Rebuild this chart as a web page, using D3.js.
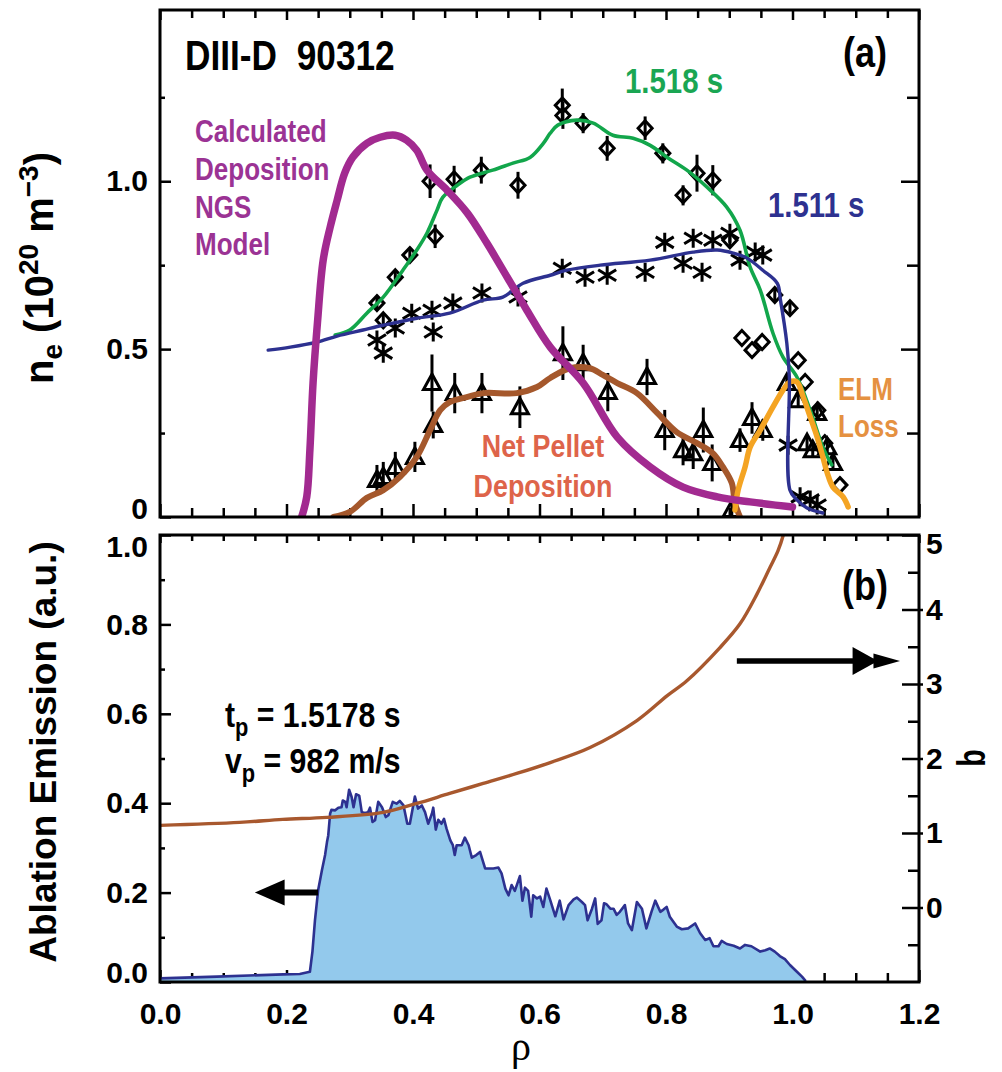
<!DOCTYPE html>
<html>
<head>
<meta charset="UTF-8">
<style>
  body { margin: 0; background: #fff; }
  svg { display: block; }
  text { font-weight: bold; }
</style>
</head>
<body>
<svg width="1002" height="1072"></svg>
<script src="https://d3js.org/d3.v7.min.js"></script>
<script>
// ---- data (rho, value) ----
// panel (a): n_e profiles, 1e20 m^-3
const ngsModel = [[0.224,0],[0.232,0.06],[0.237,0.2],[0.242,0.4],[0.249,0.58],[0.258,0.765],[0.269,0.863],
  [0.280,0.943],[0.292,1.024],[0.305,1.072],[0.327,1.113],[0.348,1.131],[0.372,1.137],[0.390,1.122],
  [0.406,1.092],[0.422,1.033],[0.454,0.973],[0.486,0.905],[0.517,0.815],[0.549,0.714],[0.580,0.616],
  [0.617,0.506],[0.669,0.399],[0.723,0.238],[0.775,0.149],[0.827,0.089],[0.881,0.060],[0.933,0.045],[1.0,0.030]];

const fit1518 = [[0.277,0.542],[0.300,0.557],[0.327,0.607],[0.353,0.655],[0.384,0.735],[0.406,0.795],
  [0.422,0.845],[0.438,0.914],[0.447,0.952],[0.470,0.988],[0.490,1.012],[0.526,1.033],[0.558,1.054],
  [0.585,1.071],[0.606,1.113],[0.617,1.143],[0.629,1.167],[0.659,1.182],[0.685,1.173],[0.716,1.137],
  [0.748,1.128],[0.775,1.107],[0.802,1.071],[0.833,1.033],[0.865,0.982],[0.896,0.923],[0.917,0.854],
  [0.933,0.744],[0.949,0.676],[0.969,0.548],[0.985,0.476],[1.007,0.417],[1.028,0.318],[1.048,0.208],[1.062,0.155]];

const fit1511 = [[0.171,0.497],[0.206,0.506],[0.248,0.521],[0.280,0.539],[0.321,0.557],[0.353,0.571],
  [0.406,0.592],[0.458,0.607],[0.511,0.646],[0.542,0.655],[0.574,0.696],[0.617,0.720],[0.643,0.735],
  [0.696,0.750],[0.775,0.765],[0.843,0.789],[0.881,0.795],[0.906,0.786],[0.928,0.771],[0.953,0.735],
  [0.976,0.696],[0.981,0.646],[0.991,0.518],[0.995,0.417],[0.996,0.080],[1.007,0.051],[1.023,0.027],[1.048,0.012]];

const netDeposition = [[0.274,0],[0.300,0.015],[0.327,0.057],[0.353,0.080],[0.379,0.119],[0.406,0.179],
  [0.427,0.259],[0.443,0.318],[0.458,0.342],[0.485,0.357],[0.511,0.369],[0.564,0.369],[0.596,0.387],
  [0.617,0.414],[0.648,0.443],[0.680,0.443],[0.700,0.423],[0.723,0.399],[0.754,0.369],[0.786,0.310],
  [0.817,0.253],[0.849,0.220],[0.874,0.190],[0.890,0.149],[0.904,0.101],[0.909,0.042],[0.917,0]];

const elmLoss = [[0.909,0.021],[0.914,0.080],[0.925,0.149],[0.933,0.208],[0.949,0.259],[0.969,0.327],
  [0.985,0.378],[0.996,0.402],[1.007,0.402],[1.017,0.357],[1.028,0.298],[1.039,0.238],[1.048,0.179],
  [1.055,0.131],[1.064,0.089],[1.080,0.060],[1.088,0.030]];

// Thomson points [rho, ne, error]
const diamonds = [[0.343,0.637,0.02],[0.353,0.586,0.02],[0.372,0.714,0.02],[0.395,0.780,0.02],[0.435,0.836,0.035],
  [0.427,1.0,0.05],[0.465,1.006,0.04],[0.508,1.033,0.04],[0.566,0.988,0.04],[0.636,1.226,0.05],
  [0.637,1.196,0.04],[0.669,1.173,0.03],[0.707,1.098,0.037],[0.767,1.158,0.035],[0.795,1.083,0.03],
  [0.827,0.958,0.03],[0.849,1.024,0.055],[0.874,1.003,0.045],[0.901,0.824,0.02],[0.972,0.661,0.02],
  [0.996,0.622,0.02],[0.920,0.533,0],[0.936,0.497,0],[0.952,0.521,0],[1.009,0.467,0],[1.020,0.402,0],
  [1.040,0.318,0],[1.051,0.220,0],[1.075,0.095,0]];

const asterisks = [[0.343,0.527],[0.353,0.488],[0.372,0.563],[0.398,0.607],[0.430,0.616],[0.432,0.551],
  [0.463,0.637],[0.509,0.667],[0.566,0.655],[0.636,0.741],[0.672,0.714],[0.707,0.720],[0.767,0.729],
  [0.798,0.818],[0.827,0.756],[0.857,0.729],[0.843,0.830],[0.874,0.824],[0.901,0.845],[0.917,0.765],
  [0.941,0.789],[0.953,0.780],[0.993,0.214],[1.012,0.060],[1.028,0.051],[1.039,0.036]];

const triangles = [[0.343,0.110,0.045],[0.353,0.119,0.045],[0.372,0.149,0.045],[0.403,0.179,0.045],
  [0.430,0.399,0.085],[0.432,0.274,0.04],[0.466,0.369,0.06],[0.509,0.369,0.06],[0.569,0.327,0.062],
  [0.637,0.488,0.08],[0.669,0.458,0.055],[0.708,0.372,0.057],[0.770,0.417,0.054],[0.798,0.259,0.06],
  [0.827,0.199,0.045],[0.843,0.190,0.047],[0.859,0.259,0.067],[0.873,0.161,0.055],[0.904,0.021,0.02],
  [0.917,0.229,0.035],[0.936,0.295,0.047],[0.953,0.259,0.032],[0.991,0.399,0.02],[1.009,0.348,0.02],
  [1.023,0.220,0.02],[1.032,0.199,0.02],[1.039,0.310,0.02],[1.055,0.208,0.02],[1.064,0.161,0.02]];

// panel (b): ablation emission (a.u.) and q profile
const ablation = [[0,0.008],[0.09,0.012],[0.195,0.017],[0.221,0.018],[0.237,0.023],[0.241,0.068],
  [0.245,0.138],[0.250,0.205],[0.256,0.250],[0.261,0.284],[0.264,0.313],[0.266,0.328],[0.269,0.377],
  [0.271,0.385],[0.277,0.384],[0.282,0.390],[0.287,0.391],[0.289,0.406],[0.293,0.403],[0.295,0.391],
  [0.299,0.430],[0.303,0.414],[0.306,0.391],[0.310,0.420],[0.315,0.417],[0.319,0.380],[0.324,0.378],
  [0.329,0.380],[0.332,0.390],[0.336,0.358],[0.340,0.362],[0.345,0.403],[0.351,0.391],[0.357,0.369],
  [0.361,0.373],[0.368,0.403],[0.374,0.399],[0.379,0.405],[0.385,0.395],[0.391,0.354],[0.395,0.354],
  [0.403,0.415],[0.408,0.388],[0.414,0.395],[0.419,0.380],[0.424,0.354],[0.430,0.377],[0.432,0.390],
  [0.436,0.341],[0.440,0.363],[0.445,0.354],[0.449,0.365],[0.453,0.343],[0.459,0.317],[0.463,0.306],
  [0.466,0.284],[0.469,0.306],[0.477,0.306],[0.482,0.323],[0.488,0.306],[0.493,0.278],[0.500,0.284],
  [0.506,0.291],[0.514,0.254],[0.527,0.254],[0.535,0.256],[0.540,0.243],[0.546,0.209],[0.551,0.194],
  [0.556,0.217],[0.561,0.204],[0.569,0.237],[0.573,0.182],[0.577,0.211],[0.582,0.204],[0.587,0.146],
  [0.590,0.194],[0.596,0.187],[0.601,0.191],[0.606,0.168],[0.611,0.209],[0.617,0.183],[0.625,0.147],
  [0.632,0.182],[0.638,0.140],[0.646,0.172],[0.654,0.185],[0.659,0.189],[0.667,0.179],[0.672,0.172],
  [0.676,0.138],[0.683,0.164],[0.688,0.187],[0.692,0.130],[0.698,0.138],[0.702,0.176],[0.706,0.174],
  [0.712,0.164],[0.717,0.164],[0.722,0.150],[0.727,0.157],[0.735,0.172],[0.740,0.131],[0.746,0.116],
  [0.754,0.179],[0.762,0.164],[0.769,0.120],[0.777,0.157],[0.783,0.182],[0.791,0.157],[0.796,0.162],
  [0.801,0.168],[0.806,0.146],[0.817,0.124],[0.825,0.118],[0.835,0.120],[0.846,0.131],[0.854,0.109],
  [0.862,0.094],[0.869,0.098],[0.875,0.080],[0.883,0.080],[0.888,0.092],[0.896,0.085],[0.907,0.081],
  [0.917,0.075],[0.925,0.083],[0.935,0.080],[0.949,0.068],[0.957,0.071],[0.964,0.075],[0.972,0.068],
  [0.980,0.058],[0.988,0.051],[0.996,0.038],[1.007,0.023],[1.015,0.012],[1.021,0.002]];

const qProfile = [[0,1.103],[0.126,1.143],[0.194,1.183],[0.264,1.210],[0.353,1.277],[0.406,1.397],
  [0.458,1.531],[0.511,1.665],[0.564,1.799],[0.617,1.946],[0.680,2.147],[0.754,2.509],[0.802,2.844],
  [0.833,3.044],[0.885,3.486],[0.917,3.808],[0.944,4.210],[0.964,4.558],[0.977,4.786],[0.985,4.986],[0.988,5.1]];

const xMajor = [0, 0.2, 0.4, 0.6, 0.8, 1.0, 1.2];
const xMinor = d3.range(1, 24).filter(i => i % 4 !== 0).map(i => i * 0.05);

// ---- layout ----
const svg = d3.select("svg");
const x = d3.scaleLinear().domain([0, 1.2]).range([160, 919]);
const yA = d3.scaleLinear().domain([0, 1.51]).range([517, 10]);
const yB = d3.scaleLinear().domain([0, 1]).range([982, 535]);
const yQ = d3.scaleLinear().domain([-1, 5]).range([982, 535]);

const SANS = "'Liberation Sans', Arial, sans-serif";
const SQUEEZE = 0.84; // the figure's lettering is a condensed Helvetica

const defs = svg.append("defs");
defs.append("clipPath").attr("id", "clipA").append("rect")
  .attr("x", 160).attr("y", 10).attr("width", 759).attr("height", 507);
defs.append("clipPath").attr("id", "clipB").append("rect")
  .attr("x", 160).attr("y", 535).attr("width", 759).attr("height", 447);

function styleAxis(g) {
  g.select(".domain").remove();
  g.selectAll("line").attr("stroke", "#000").attr("stroke-width", 2.5);
  g.attr("font-family", SANS).attr("font-size", 30).attr("fill", "#000");
  g.selectAll("text").attr("fill", "#000");
  return g;
}
function tickAxis(axis, tx, ty) {
  return svg.append("g").attr("transform", `translate(${tx},${ty})`).call(axis).call(styleAxis);
}
const blank = () => "";

// ---- panel (a) axes ----
tickAxis(d3.axisLeft(yA).tickValues([0, 0.5, 1.0]).tickSize(-11).tickPadding(12)
  .tickFormat(d => d === 0 ? "0" : d3.format(".1f")(d)), 160, 0)
  .selectAll("text").filter(d => d === 0).attr("dy", "0.05em");
tickAxis(d3.axisLeft(yA).tickValues([0.25, 0.75, 1.25]).tickSize(-5).tickFormat(blank), 160, 0);
tickAxis(d3.axisRight(yA).tickValues([0.5, 1.0]).tickSize(-18).tickFormat(blank), 919, 0);
tickAxis(d3.axisRight(yA).tickValues([0.25, 0.75, 1.25]).tickSize(-12).tickFormat(blank), 919, 0);
tickAxis(d3.axisBottom(x).tickValues(xMajor).tickSize(-13).tickFormat(blank), 0, 517);
tickAxis(d3.axisBottom(x).tickValues(xMinor).tickSize(-9).tickFormat(blank), 0, 517);
tickAxis(d3.axisTop(x).tickValues(xMajor).tickSize(-10).tickFormat(blank), 0, 10);
tickAxis(d3.axisTop(x).tickValues(xMinor).tickSize(-8).tickFormat(blank), 0, 10);

// ---- panel (b) axes ----
tickAxis(d3.axisLeft(yB).tickValues([0, 0.2, 0.4, 0.6, 0.8, 1.0]).tickSize(-11).tickPadding(12)
  .tickFormat(d3.format(".1f")), 160, 0)
  .selectAll("text").attr("dy", d => d === 0 ? "0.0em" : d === 1 ? "0.7em" : "0.32em");
tickAxis(d3.axisLeft(yB).tickValues([0.1, 0.3, 0.5, 0.7, 0.9]).tickSize(-5).tickFormat(blank), 160, 0);
tickAxis(d3.axisRight(yQ).tickValues([0, 1, 2, 3, 4, 5]).tickSize(-17).tickPadding(7)
  .tickFormat(d3.format("d")), 919, 0)
  .selectAll("text").attr("dy", d => d === 5 ? "0.62em" : "0.32em");
tickAxis(d3.axisRight(yQ).tickValues([0, 1, 2, 3, 4]).tickSize(4).tickFormat(blank), 919, 0);
tickAxis(d3.axisRight(yQ).tickValues([-0.5, 0.5, 1.5, 2.5, 3.5, 4.5]).tickSize(-11).tickFormat(blank), 919, 0);
tickAxis(d3.axisBottom(x).tickValues(xMajor).tickSize(-12).tickPadding(21)
  .tickFormat(d3.format(".1f")), 0, 982);
tickAxis(d3.axisBottom(x).tickValues(xMinor).tickSize(-9).tickFormat(blank), 0, 982);
tickAxis(d3.axisTop(x).tickValues(xMajor).tickSize(-8).tickFormat(blank), 0, 535);
tickAxis(d3.axisTop(x).tickValues(xMinor).tickSize(-6).tickFormat(blank), 0, 535);

// ---- panel (a) marks ----
const gA = svg.append("g").attr("clip-path", "url(#clipA)");
const markers = gA.append("g").attr("fill", "none").attr("stroke", "#000").attr("stroke-width", 3);

markers.selectAll(".eb").data(diamonds.concat(triangles).filter(d => d[2] > 0)).join("line")
  .attr("x1", d => x(d[0])).attr("x2", d => x(d[0]))
  .attr("y1", d => yA(d[1] - d[2])).attr("y2", d => yA(d[1] + d[2]));
markers.selectAll(".dm").data(diamonds).join("path")
  .attr("transform", d => `translate(${x(d[0])},${yA(d[1])})`)
  .attr("d", "M0,-7.5L7,0L0,7.5L-7,0Z");
markers.selectAll(".tr").data(triangles).join("path")
  .attr("transform", d => `translate(${x(d[0])},${yA(d[1])})`)
  .attr("d", "M0,-9L8.5,6.5L-8.5,6.5Z");
markers.selectAll(".as").data(asterisks).join("path")
  .attr("transform", d => `translate(${x(d[0])},${yA(d[1])})`)
  .attr("d", "M0,-9.5V9.5M-9,-5.5L9,5.5M-9,5.5L9,-5.5");

const lineA = d3.line().x(d => x(d[0])).y(d => yA(d[1])).curve(d3.curveCatmullRom.alpha(0.5));
function curveA(data, color, width) {
  gA.append("path").datum(data).attr("d", lineA)
    .attr("fill", "none").attr("stroke", color).attr("stroke-width", width)
    .attr("stroke-linejoin", "round").attr("stroke-linecap", "round");
}
curveA(fit1518, "#12a64b", 3.6);
curveA(netDeposition, "#a5582c", 6);
curveA(elmLoss, "#f4a423", 5.5);
curveA(fit1511, "#2d3190", 3.4);
curveA(ngsModel, "#a22a90", 7.5);

// ---- panel (b) marks ----
const gB = svg.append("g").attr("clip-path", "url(#clipB)");
gB.append("path").datum(ablation)
  .attr("d", d3.area().x(d => x(d[0])).y0(yB(0)).y1(d => yB(d[1])))
  .attr("fill", "#93c9ec");
gB.append("path").datum(ablation)
  .attr("d", d3.line().x(d => x(d[0])).y(d => yB(d[1])))
  .attr("fill", "none").attr("stroke", "#2d3190").attr("stroke-width", 2.6).attr("stroke-linejoin", "round");
gB.append("path").datum(qProfile)
  .attr("d", d3.line().x(d => x(d[0])).y(d => yQ(d[1])).curve(d3.curveCatmullRom.alpha(0.5)))
  .attr("fill", "none").attr("stroke", "#a8582e").attr("stroke-width", 3.4);

// arrows pointing to the axis each curve belongs to
const ay = yB(0.2);
svg.append("line").attr("x1", x(0.25)).attr("x2", x(0.19)).attr("y1", ay).attr("y2", ay)
  .attr("stroke", "#000").attr("stroke-width", 6);
svg.append("path").attr("d", `M${x(0.15)},${ay}L${x(0.197)},${ay - 13}L${x(0.197)},${ay + 13}Z`);
const by = yQ(3.31);
svg.append("line").attr("x1", x(0.912)).attr("x2", x(1.1)).attr("y1", by).attr("y2", by)
  .attr("stroke", "#000").attr("stroke-width", 5.5);
svg.append("path").attr("d",
  `M${x(1.095)},${by - 14}L${x(1.135)},${by}L${x(1.095)},${by + 14}Z` +
  `M${x(1.128)},${by - 7.5}L${x(1.17)},${by}L${x(1.128)},${by + 7.5}Z`);

// frames
[[10, 517], [535, 982]].forEach(([t, b]) => {
  svg.append("rect").attr("x", 160).attr("y", t).attr("width", 759).attr("height", b - t)
    .attr("fill", "none").attr("stroke", "#000").attr("stroke-width", 3);
});

// ---- text ----
function label(txt, px, py, size, color, anchor) {
  return svg.append("text").attr("transform", `translate(${px},${py}) scale(${SQUEEZE},1)`)
    .attr("font-size", size).attr("font-family", SANS).attr("fill", color || "#000")
    .attr("text-anchor", anchor || "start").style("white-space", "pre").text(txt);
}
label("DIII-D  90312", 185, 70, 42);
label("(a)", 843, 67, 43);
label("(b)", 842, 600, 43);
label("1.518 s", 625, 93, 35, "#1aa653");
label("1.511 s", 768, 217, 35, "#2d3190");
["Calculated", "Deposition", "NGS", "Model"].forEach((s, i) => label(s, 195, 142 + i * 37.8, 31, "#9b3394"));
label("Net Pellet", 543, 457, 32, "#de644a", "middle");
label("Deposition", 543, 497, 32, "#de644a", "middle");
label("ELM", 838, 400, 31, "#e59141");
label("Loss", 838, 437, 31, "#e59141");

const tp = label("t", 225, 727, 36);
tp.append("tspan").attr("font-size", 26).attr("dy", 9).text("p");
tp.append("tspan").attr("dy", -9).text(" = 1.5178 s");
const vp = label("v", 225, 773, 36);
vp.append("tspan").attr("font-size", 26).attr("dy", 9).text("p");
vp.append("tspan").attr("dy", -9).text(" = 982 m/s");

// axis titles
const ne = svg.append("text").attr("transform", "translate(53,268) rotate(-90)")
  .attr("text-anchor", "middle").attr("font-family", SANS).attr("font-size", 40);
ne.append("tspan").text("n");
ne.append("tspan").attr("font-size", 28).attr("dy", 9).text("e");
ne.append("tspan").attr("dy", -9).text(" (10");
ne.append("tspan").attr("font-size", 28).attr("dy", -15).text("20");
ne.append("tspan").attr("dy", 15).text(" m");
ne.append("tspan").attr("font-size", 28).attr("dy", -15).text("\u22123");
ne.append("tspan").attr("dy", 15).text(")");

svg.append("text").attr("transform", "translate(56,752) rotate(-90)")
  .attr("text-anchor", "middle").attr("font-family", SANS).attr("font-size", 37)
  .text("Ablation Emission (a.u.)");
svg.append("text").attr("transform", "translate(964,758) rotate(90) scale(0.75,1)")
  .attr("text-anchor", "middle").attr("font-family", SANS).attr("font-size", 38).text("q");
svg.append("text").attr("x", 521).attr("y", 1060).attr("text-anchor", "middle")
  .attr("font-family", "'Liberation Serif', 'DejaVu Serif', serif")
  .style("font-weight", "normal").attr("font-size", 40).text("\u03c1");
</script>
</body>
</html>
